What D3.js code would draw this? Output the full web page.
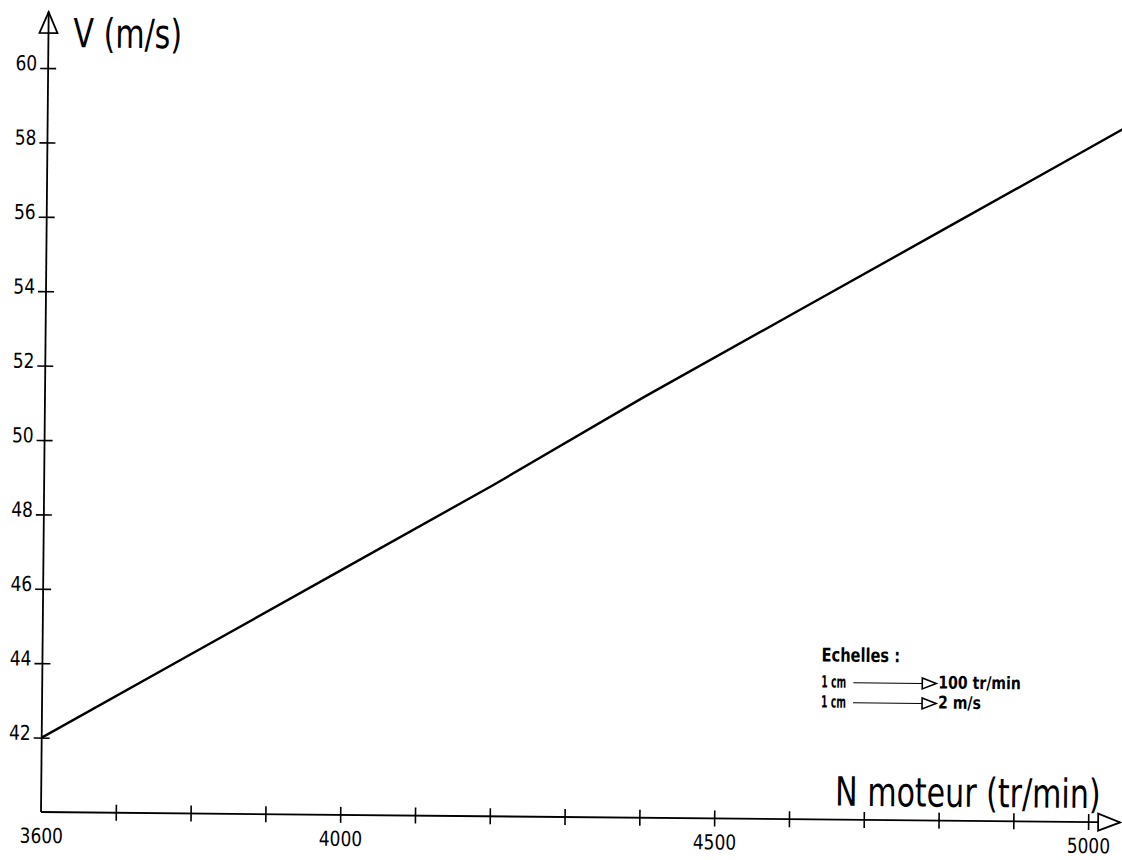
<!DOCTYPE html>
<html>
<head>
<meta charset="utf-8">
<script src="https://cdn.jsdelivr.net/npm/d3@7"></script>
<style>
    body { margin: 0; background: #fff; }
    text { font-family: "DejaVu Sans", sans-serif; fill: #000; }
</style>
</head>
<body>
<div id="chart"></div>
<script>
// data
const regime = [3600, 3800, 4000, 4200, 4400, 4600, 4800, 5000, 5060];
const vitesse = [42.0, 44.3, 46.6, 48.9, 51.3, 53.6, 55.9, 58.2, 58.9];

const xTicks = [3600, 3700, 3800, 3900, 4000, 4100, 4200, 4300, 4400, 4500, 4600, 4700, 4800, 4900, 5000];
const xLabels = [3600, 4000, 4500, 5000];
const yTicks = [42, 44, 46, 48, 50, 52, 54, 56, 58, 60];

const xTitle = "N moteur (tr/min)";
const yTitle = "V (m/s)";
const legendTitle = "Echelles :";
const legendLeft = ["1 cm", "1 cm"];
const legendRight = ["100 tr/min", "2 m/s"];

const dim = { width: 1122, height: 860 };
const origin = { x: 41, y: 812 };
const cm = 74.8; // one cm on the sheet in px

// plotter lettering is tall and narrow: squeeze the glyphs
const squeeze = (sel, x, y, sx, sy) => sel
    .attr("x", 0)
    .attr("y", 0)
    .attr("dy", 0)
    .attr("transform", `translate(${x}, ${y}) scale(${sx}, ${sy})`);

const svg = d3.select("#chart").append("svg")
    .attr("width", dim.width)
    .attr("height", dim.height);

svg.append("rect")
    .attr("width", dim.width)
    .attr("height", dim.height)
    .attr("fill", "#fff");

// the scan is a little tilted
const g = svg.append("g")
    .attr("transform", `rotate(0.55, ${origin.x}, ${origin.y})`);

const xScale = d3.scaleLinear()
    .domain([3600, 5000])
    .range([origin.x, origin.x + 14 * cm]);

const yScale = d3.scaleLinear()
    .domain([40, 60])
    .range([origin.y, origin.y - 20 * 37.2]);

// x axis
const xAxis = g.append("g")
    .attr("class", "xAxis")
    .attr("transform", `translate(0, ${origin.y})`)
    .call(d3.axisBottom(xScale)
        .tickValues(xTicks)
        .tickSizeOuter(0)
        .tickFormat(d => xLabels.includes(d) ? d : ""));

xAxis.select(".domain").remove();
xAxis.selectAll(".tick line")
    .attr("y1", -8)
    .attr("y2", 8)
    .attr("stroke", "#000")
    .attr("stroke-width", 1.6)
    .attr("display", d => d === 3600 ? "none" : null);
xAxis.selectAll(".tick text")
    .attr("font-size", 17)
    .call(squeeze, 0, 31, 1, 1.22);

// y axis
const yAxis = g.append("g")
    .attr("class", "yAxis")
    .attr("transform", `translate(${origin.x}, 0)`)
    .call(d3.axisLeft(yScale)
        .tickValues(yTicks)
        .tickSizeOuter(0)
        .tickFormat(d => d));

yAxis.select(".domain").remove();
yAxis.selectAll(".tick line")
    .attr("x1", -8)
    .attr("x2", 8)
    .attr("stroke", "#000")
    .attr("stroke-width", 1.6);
yAxis.selectAll(".tick text")
    .attr("font-size", 17)
    .call(squeeze, -11, 2, 1, 1.22);

g.selectAll(".xAxis, .yAxis").attr("font-family", null);
g.selectAll(".tick text").attr("fill", "#000");

// axis lines with open arrow heads
const xEnd = xScale.range()[1];
const yEnd = yScale(60);

g.append("line")
    .attr("x1", origin.x).attr("y1", origin.y)
    .attr("x2", xEnd + 32).attr("y2", origin.y)
    .attr("stroke", "#000").attr("stroke-width", 1.8);

g.append("line")
    .attr("x1", origin.x).attr("y1", origin.y)
    .attr("x2", origin.x).attr("y2", yEnd - 56)
    .attr("stroke", "#000").attr("stroke-width", 1.8);

g.append("path")
    .attr("d", `M${xEnd + 10},${origin.y - 8.5} L${xEnd + 32},${origin.y} L${xEnd + 10},${origin.y + 8.5} Z`)
    .attr("fill", "#fff").attr("stroke", "#000").attr("stroke-width", 1.8);

g.append("path")
    .attr("d", `M${origin.x - 9},${yEnd - 35} L${origin.x},${yEnd - 56} L${origin.x + 9},${yEnd - 35} Z`)
    .attr("fill", "#fff").attr("stroke", "#000").attr("stroke-width", 1.8);

g.append("line")
    .attr("x1", origin.x).attr("y1", yEnd - 35)
    .attr("x2", origin.x).attr("y2", yEnd - 56)
    .attr("stroke", "#000").attr("stroke-width", 1.8);

// titles
g.append("text")
    .attr("font-size", 31)
    .text(yTitle)
    .call(squeeze, 66, 47, 0.97, 1.3);

g.append("text")
    .attr("font-size", 31)
    .text(xTitle)
    .call(squeeze, 835, 798, 0.97, 1.3);

// the curve
svg.append("defs").append("clipPath")
    .attr("id", "clip")
    .append("rect")
    .attr("width", dim.width)
    .attr("height", dim.height);

const line = d3.line()
    .x((d, i) => xScale(regime[i]))
    .y(d => yScale(d));

g.append("path")
    .datum(vitesse)
    .attr("clip-path", "url(#clip)")
    .attr("d", line)
    .attr("fill", "none")
    .attr("stroke", "#000")
    .attr("stroke-width", 2.4);

// scales note
const legend = g.append("g")
    .attr("transform", "translate(820, 654)");

legend.append("text")
    .attr("font-size", 17)
    .attr("font-weight", "bold")
    .text(legendTitle)
    .call(squeeze, 0, 0, 0.86, 1.12);

legendLeft.forEach((t, i) => {
    const row = legend.append("g")
        .attr("transform", `translate(0, ${26 + i * 20})`);
    row.append("text")
        .attr("font-size", 16)
        .attr("font-weight", "bold")
        .text(t)
        .call(squeeze, 0, 0, 0.58, 1.05);
    row.append("line")
        .attr("x1", 32).attr("y1", -5)
        .attr("x2", 101).attr("y2", -5)
        .attr("stroke", "#000").attr("stroke-width", 1.1);
    row.append("path")
        .attr("d", "M101,-10.5 L115,-5 L101,0.5 Z")
        .attr("fill", "#fff").attr("stroke", "#000").attr("stroke-width", 1.6);
    row.append("text")
        .attr("font-size", 16)
        .attr("font-weight", "bold")
        .text(legendRight[i])
        .call(squeeze, 117, 0, 0.88, 1.1);
});
</script>
</body>
</html>
